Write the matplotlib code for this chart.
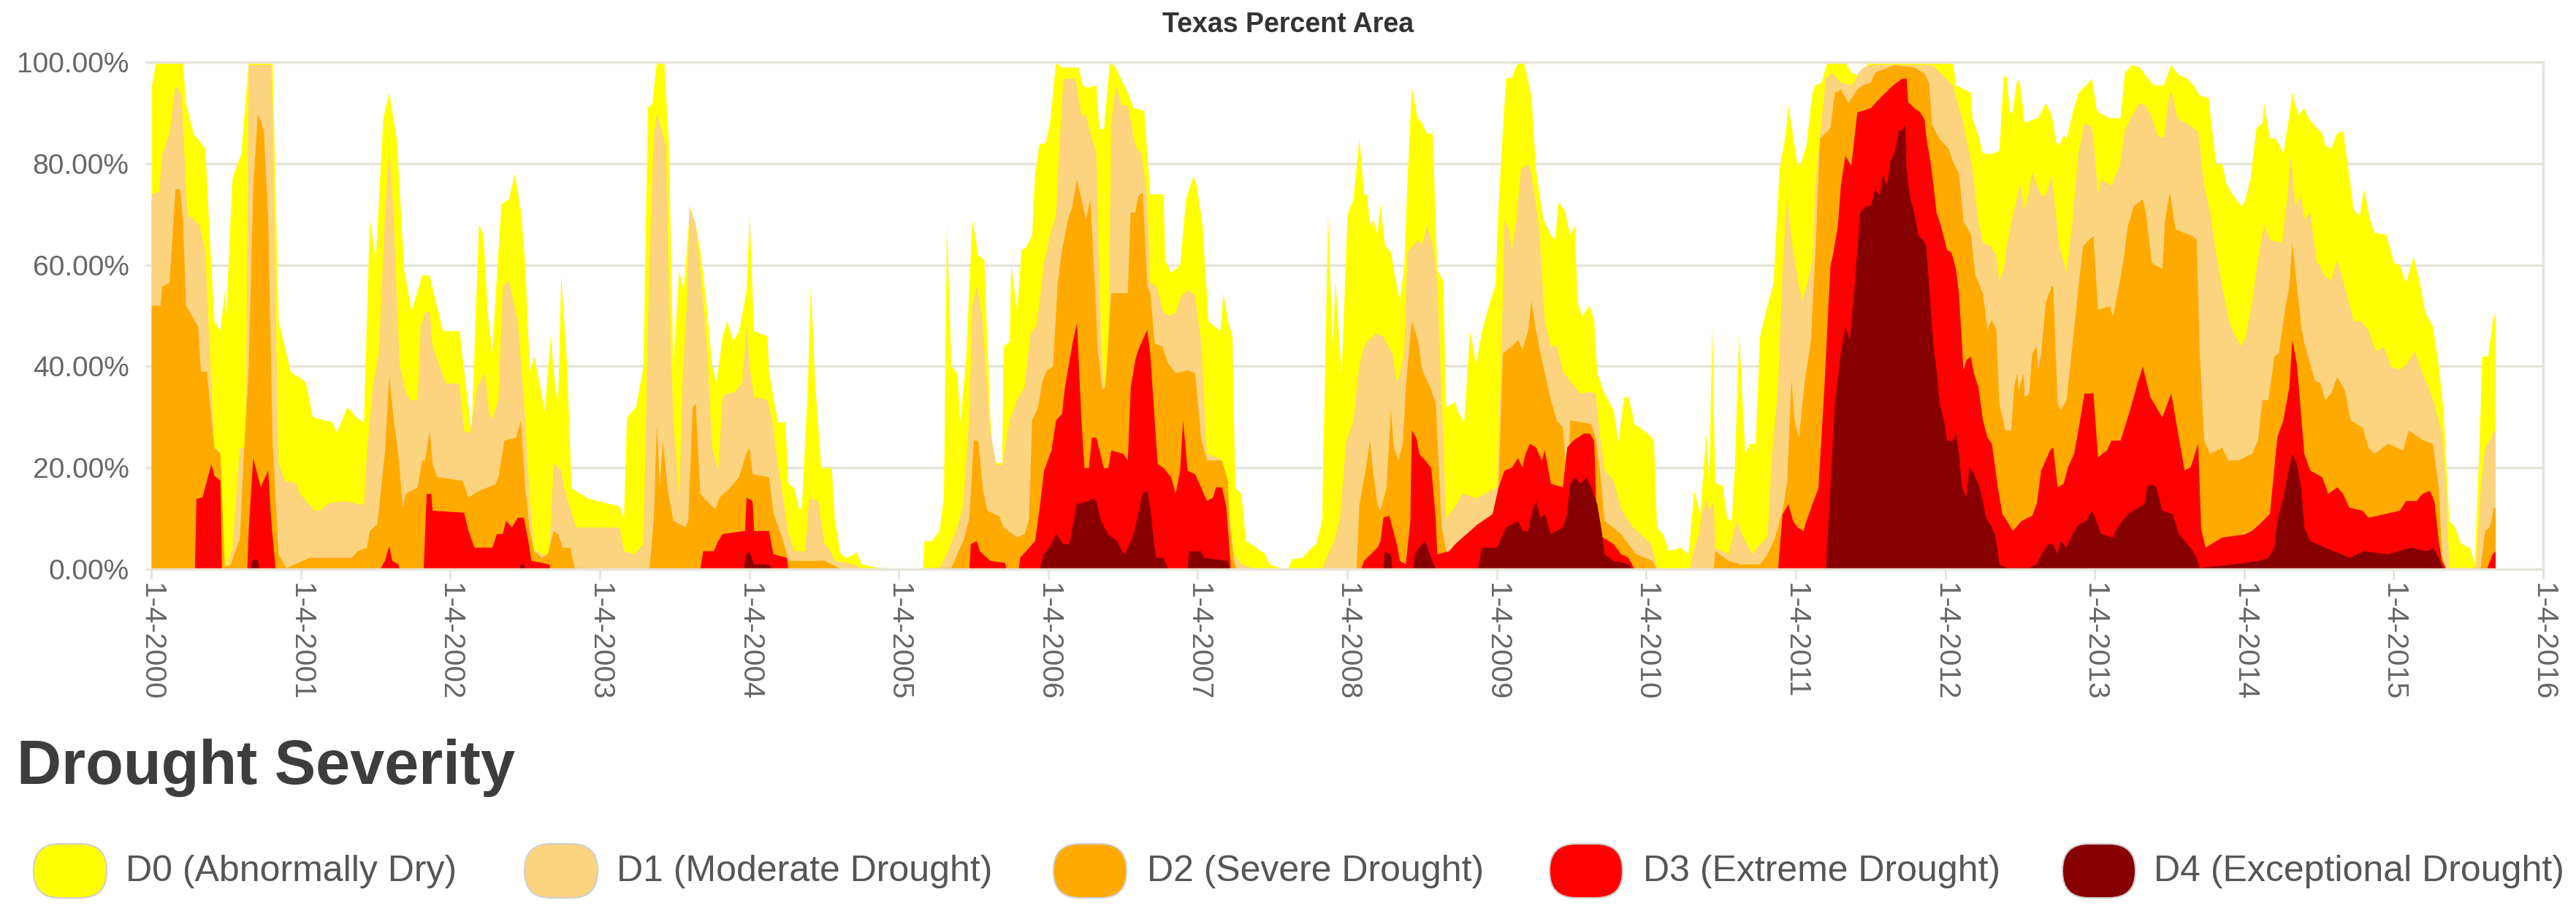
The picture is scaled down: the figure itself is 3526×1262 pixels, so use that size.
"""
Texas percent area in drought, 2000-2015 (US Drought Monitor style chart)
"""
# ------------------
# modules
# ------------------
import numpy as np
import matplotlib
matplotlib.use("Agg")
from matplotlib import pyplot as plt
from matplotlib.patches import FancyBboxPatch

plt.rcParams['font.family'] = ['Liberation Sans', 'DejaVu Sans']

# ------------------
# data
# ------------------
levels = ["D0 (Abnormally Dry)", "D1 (Moderate Drought)", "D2 (Severe Drought)",
          "D3 (Extreme Drought)", "D4 (Exceptional Drought)"]
colors = ["#FFFF00", "#FCD37F", "#FFAA00", "#FF0000", "#860000"]
years = list(range(2000, 2017))
tick_labels = ["1-4-%d" % y for y in years]
y_ticks = [0, 20, 40, 60, 80, 100]

# (decimal year, cumulative percent area)
d0 = [(2000.00, 95), (2000.03, 100), (2000.21, 100), (2000.23, 92), (2000.28, 86), (2000.36, 83),
      (2000.38, 71), (2000.42, 49), (2000.46, 47), (2000.49, 55), (2000.50, 50), (2000.54, 77),
      (2000.60, 82), (2000.65, 100), (2000.81, 100), (2000.85, 49), (2000.93, 39), (2001.03, 37),
      (2001.08, 30), (2001.21, 29), (2001.24, 27), (2001.31, 32), (2001.37, 30), (2001.42, 29),
      (2001.46, 69), (2001.50, 61), (2001.55, 89), (2001.59, 94), (2001.64, 85), (2001.69, 59),
      (2001.74, 51), (2001.81, 58), (2001.86, 58), (2001.90, 53), (2001.95, 47), (2002.06, 47),
      (2002.10, 37), (2002.14, 27), (2002.19, 68), (2002.22, 66), (2002.25, 50), (2002.28, 43),
      (2002.31, 58), (2002.34, 72), (2002.39, 73), (2002.43, 78), (2002.47, 71), (2002.50, 60),
      (2002.53, 39), (2002.56, 42), (2002.60, 36), (2002.63, 31), (2002.67, 46), (2002.70, 36),
      (2002.72, 33), (2002.74, 58), (2002.78, 40), (2002.81, 16), (2002.92, 14), (2003.05, 13),
      (2003.13, 12.5), (2003.16, 10), (2003.18, 30), (2003.24, 32), (2003.29, 40), (2003.32, 91),
      (2003.35, 92), (2003.38, 100), (2003.43, 100), (2003.46, 84), (2003.49, 40), (2003.53, 59),
      (2003.56, 55), (2003.60, 71), (2003.64, 68), (2003.67, 63), (2003.71, 53), (2003.75, 40),
      (2003.78, 37), (2003.82, 46), (2003.85, 49), (2003.89, 45), (2003.93, 47), (2003.98, 55),
      (2004.00, 70), (2004.03, 47), (2004.12, 46), (2004.13, 39), (2004.19, 29), (2004.24, 29),
      (2004.26, 17), (2004.30, 16), (2004.33, 12), (2004.35, 12), (2004.39, 36), (2004.41, 56),
      (2004.44, 36), (2004.48, 20), (2004.55, 20), (2004.57, 10), (2004.61, 3), (2004.65, 2.3),
      (2004.72, 3.3), (2004.75, 1), (2004.86, 0.3), (2005.16, 0), (2005.17, 5.6), (2005.22, 5.6),
      (2005.27, 7.6), (2005.30, 14), (2005.32, 68), (2005.35, 40), (2005.39, 38.7), (2005.41, 29),
      (2005.45, 42), (2005.49, 69), (2005.53, 62), (2005.57, 61), (2005.61, 30), (2005.63, 21),
      (2005.69, 21), (2005.70, 44), (2005.74, 45), (2005.75, 60), (2005.79, 51), (2005.82, 63),
      (2005.85, 63.5), (2005.89, 66), (2005.91, 78), (2005.94, 84), (2005.98, 84), (2006.01, 88),
      (2006.05, 100), (2006.09, 99), (2006.20, 99), (2006.23, 95.5), (2006.26, 95), (2006.32, 95.5),
      (2006.34, 87), (2006.37, 86.7), (2006.41, 100), (2006.45, 99), (2006.48, 97), (2006.53, 94),
      (2006.57, 91), (2006.64, 90.5), (2006.68, 74), (2006.77, 74), (2006.78, 61), (2006.82, 58.5),
      (2006.88, 60), (2006.92, 73), (2006.97, 77.6), (2006.99, 76), (2007.03, 68), (2007.07, 49),
      (2007.11, 48), (2007.15, 47), (2007.17, 54.5), (2007.20, 49), (2007.23, 46), (2007.25, 16),
      (2007.29, 15), (2007.32, 5.6), (2007.39, 4.3), (2007.45, 3), (2007.48, 1), (2007.55, 0.3),
      (2007.60, 0), (2007.63, 2), (2007.70, 2.3), (2007.76, 4.3), (2007.79, 5), (2007.83, 9.6),
      (2007.87, 70), (2007.90, 44), (2007.92, 57), (2007.96, 38), (2008.00, 70), (2008.04, 73),
      (2008.08, 85), (2008.11, 74), (2008.13, 74), (2008.15, 68), (2008.17, 69), (2008.20, 66),
      (2008.22, 72), (2008.25, 64), (2008.29, 62.5), (2008.33, 56), (2008.35, 53), (2008.38, 60),
      (2008.40, 76), (2008.43, 95), (2008.47, 89), (2008.50, 88), (2008.53, 86), (2008.57, 86),
      (2008.60, 59), (2008.64, 57), (2008.66, 32), (2008.72, 33), (2008.74, 31), (2008.78, 29),
      (2008.82, 47), (2008.86, 40.6), (2008.90, 47), (2008.95, 52.5), (2008.99, 56), (2009.01, 71.7),
      (2009.06, 96.8), (2009.10, 97), (2009.14, 100), (2009.18, 100), (2009.23, 93.5), (2009.26, 79),
      (2009.31, 69), (2009.36, 66), (2009.39, 65), (2009.41, 72.4), (2009.45, 71), (2009.49, 66),
      (2009.52, 67.8), (2009.54, 52.5), (2009.57, 50), (2009.62, 52), (2009.65, 49), (2009.67, 38.7),
      (2009.72, 34.7), (2009.78, 31.4), (2009.81, 25), (2009.85, 34), (2009.88, 34), (2009.92, 28.7),
      (2010.01, 26.8), (2010.05, 25.4), (2010.07, 8.3), (2010.11, 7), (2010.15, 3.6), (2010.23, 4.3),
      (2010.28, 3), (2010.32, 15.5), (2010.36, 11), (2010.40, 26.8), (2010.42, 17), (2010.44, 48),
      (2010.46, 17), (2010.51, 16.5), (2010.54, 10), (2010.57, 9.6), (2010.59, 19.5), (2010.62, 46.6),
      (2010.66, 22.8), (2010.69, 24.8), (2010.73, 24.8), (2010.76, 46), (2010.80, 51), (2010.85, 56.5),
      (2010.89, 79), (2010.93, 85.6), (2010.95, 91.5), (2010.98, 85.6), (2011.01, 79.6), (2011.03, 80),
      (2011.07, 83.6), (2011.11, 94), (2011.13, 95.5), (2011.17, 96), (2011.21, 100), (2011.33, 100),
      (2011.37, 98), (2011.41, 97.5), (2011.45, 97), (2011.48, 100), (2012.05, 100), (2012.07, 95.5),
      (2012.17, 94), (2012.18, 89), (2012.22, 85.6), (2012.25, 82), (2012.31, 82), (2012.36, 82.5),
      (2012.39, 97.5), (2012.41, 97), (2012.43, 90), (2012.45, 90.3), (2012.48, 96.8), (2012.50, 95.5),
      (2012.53, 88), (2012.58, 88.7), (2012.62, 89), (2012.67, 92), (2012.71, 89.6), (2012.74, 84.3),
      (2012.76, 83.6), (2012.79, 85.6), (2012.81, 85), (2012.85, 90), (2012.89, 94), (2012.94, 95.5),
      (2012.98, 96.8), (2013.01, 90.9), (2013.03, 90), (2013.10, 89), (2013.17, 89), (2013.20, 98),
      (2013.25, 99.5), (2013.30, 99), (2013.35, 97), (2013.39, 95.5), (2013.46, 95.5), (2013.51, 99.5),
      (2013.56, 97.5), (2013.61, 97), (2013.66, 95.5), (2013.70, 93.5), (2013.76, 93), (2013.81, 80),
      (2013.85, 80), (2013.88, 76), (2013.92, 74), (2013.98, 71.7), (2014.00, 72.4), (2014.04, 77),
      (2014.08, 87), (2014.12, 88), (2014.13, 92), (2014.17, 85), (2014.21, 85), (2014.26, 82),
      (2014.30, 89.6), (2014.32, 94), (2014.36, 89.6), (2014.40, 91), (2014.43, 89), (2014.47, 87.5),
      (2014.52, 86), (2014.54, 83.6), (2014.58, 83), (2014.62, 86), (2014.66, 86.5), (2014.70, 77.7),
      (2014.73, 71), (2014.77, 69.7), (2014.80, 75), (2014.84, 69), (2014.87, 66.4), (2014.95, 66),
      (2015.00, 60.5), (2015.04, 60), (2015.08, 56.5), (2015.13, 61.7), (2015.17, 57), (2015.21, 50.6),
      (2015.26, 48), (2015.30, 40), (2015.33, 32), (2015.37, 9.6), (2015.41, 8.3), (2015.45, 5),
      (2015.51, 4.3), (2015.54, 1), (2015.57, 22.8), (2015.59, 42), (2015.63, 42), (2015.66, 49),
      (2015.68, 50.6)]

d1 = [(2000.00, 74), (2000.05, 74.5), (2000.07, 81.6), (2000.12, 86), (2000.16, 95.5), (2000.20, 93.5),
      (2000.24, 70), (2000.28, 69), (2000.32, 68), (2000.36, 62.5), (2000.40, 36), (2000.42, 24),
      (2000.45, 23.5), (2000.47, 4), (2000.50, 0.5), (2000.54, 4), (2000.59, 24), (2000.63, 24),
      (2000.65, 99.5), (2000.80, 99.5), (2000.81, 89), (2000.84, 36), (2000.85, 20.8), (2000.89, 17.5),
      (2000.97, 17), (2000.99, 15), (2001.09, 11.6), (2001.13, 11.6), (2001.18, 13), (2001.29, 13.5),
      (2001.42, 12.7), (2001.44, 22.8), (2001.48, 36), (2001.52, 42.6), (2001.56, 69), (2001.59, 83),
      (2001.62, 69), (2001.66, 40), (2001.70, 35), (2001.73, 33.4), (2001.78, 33.4), (2001.80, 48),
      (2001.83, 50.6), (2001.86, 51), (2001.88, 44), (2001.94, 39), (2001.97, 36.7), (2002.06, 36.7),
      (2002.09, 27.4), (2002.13, 26.8), (2002.18, 36), (2002.23, 38.7), (2002.26, 30.7), (2002.28, 29.7),
      (2002.32, 33.4), (2002.35, 55.8), (2002.39, 57), (2002.45, 49), (2002.50, 29.4), (2002.53, 13.5),
      (2002.56, 4), (2002.61, 3), (2002.66, 3), (2002.69, 21), (2002.74, 19.5), (2002.76, 16),
      (2002.81, 11), (2002.84, 8.3), (2003.13, 8.3), (2003.16, 3.6), (2003.23, 3), (2003.29, 5),
      (2003.33, 60), (2003.36, 85.6), (2003.38, 90), (2003.44, 83.6), (2003.46, 56), (2003.49, 29),
      (2003.53, 14), (2003.55, 36), (2003.58, 52), (2003.60, 71.7), (2003.64, 68), (2003.68, 55.8),
      (2003.71, 46), (2003.75, 24), (2003.79, 19.5), (2003.82, 34), (2003.85, 34.7), (2003.90, 35),
      (2003.95, 36.7), (2003.98, 48), (2004.00, 40), (2004.03, 34), (2004.12, 33.4), (2004.15, 29.4),
      (2004.19, 20.8), (2004.24, 11), (2004.26, 7), (2004.30, 3.6), (2004.37, 3.6), (2004.40, 14),
      (2004.46, 13.5), (2004.50, 5), (2004.53, 4.3), (2004.57, 1.7), (2004.70, 1), (2004.75, 0),
      (2005.27, 0.3), (2005.32, 3), (2005.39, 8.3), (2005.43, 13), (2005.47, 30), (2005.49, 52),
      (2005.52, 56), (2005.56, 49), (2005.58, 38.7), (2005.61, 27.4), (2005.65, 20.8), (2005.69, 20.5),
      (2005.74, 29.4), (2005.79, 33.4), (2005.84, 36), (2005.88, 46.6), (2005.92, 48), (2005.97, 60.5),
      (2006.02, 67), (2006.05, 69.7), (2006.07, 82), (2006.10, 96.8), (2006.18, 96.8), (2006.22, 89.6),
      (2006.25, 89.6), (2006.29, 85), (2006.32, 82), (2006.35, 47.3), (2006.37, 35.4), (2006.40, 43),
      (2006.42, 88), (2006.45, 95.5), (2006.49, 91.5), (2006.53, 91.5), (2006.58, 83.6), (2006.62, 82),
      (2006.66, 74), (2006.68, 56.5), (2006.72, 56), (2006.77, 50.6), (2006.81, 50), (2006.85, 50.6),
      (2006.89, 54), (2006.93, 55), (2006.98, 54), (2007.02, 45), (2007.06, 22.8), (2007.15, 21.8),
      (2007.17, 20.8), (2007.20, 14), (2007.24, 3), (2007.29, 1), (2007.39, 0), (2007.83, 0),
      (2007.86, 2.3), (2007.91, 5.6), (2007.95, 10), (2007.99, 25), (2008.04, 29.4), (2008.08, 40.6),
      (2008.12, 44.6), (2008.19, 46.6), (2008.24, 45.9), (2008.30, 42.6), (2008.33, 37), (2008.35, 38.4),
      (2008.38, 43.3), (2008.40, 62.5), (2008.47, 65), (2008.50, 64), (2008.53, 67.8), (2008.57, 64),
      (2008.60, 57), (2008.64, 26), (2008.66, 10), (2008.73, 12.9), (2008.77, 15), (2008.86, 14),
      (2009.00, 16.2), (2009.03, 42), (2009.05, 69), (2009.08, 67), (2009.10, 63), (2009.13, 69),
      (2009.16, 79), (2009.21, 80), (2009.23, 78), (2009.28, 67.8), (2009.32, 49), (2009.36, 44),
      (2009.40, 44), (2009.44, 39), (2009.52, 36), (2009.56, 34.7), (2009.62, 35), (2009.66, 34.7),
      (2009.69, 26), (2009.72, 19.5), (2009.78, 17.5), (2009.83, 12), (2009.87, 10), (2009.91, 8.3),
      (2009.96, 7), (2010.03, 5), (2010.07, 0.3), (2010.29, 0), (2010.31, 3), (2010.35, 7),
      (2010.37, 11), (2010.40, 13.5), (2010.42, 11.6), (2010.45, 13.5), (2010.46, 4.3), (2010.55, 3),
      (2010.60, 9.6), (2010.66, 5.6), (2010.71, 3), (2010.76, 5), (2010.81, 6.3), (2010.84, 22.8),
      (2010.88, 36), (2010.91, 59), (2010.94, 73.7), (2010.97, 65), (2011.02, 55.8), (2011.04, 53),
      (2011.07, 55.8), (2011.11, 61), (2011.13, 75.7), (2011.16, 85.6), (2011.20, 96.8), (2011.24, 98),
      (2011.30, 96), (2011.38, 95.5), (2011.42, 98), (2011.45, 99), (2011.50, 99.5), (2011.90, 99.5),
      (2011.93, 99), (2012.05, 95.4), (2012.12, 87.7), (2012.18, 79.1), (2012.22, 68.6), (2012.25, 64.4),
      (2012.30, 63.8), (2012.34, 62), (2012.36, 57), (2012.39, 59), (2012.41, 63.8), (2012.44, 68.4),
      (2012.48, 73.7), (2012.50, 75.7), (2012.53, 71), (2012.56, 74.4), (2012.58, 78.3), (2012.64, 73.7),
      (2012.67, 73.7), (2012.71, 77.6), (2012.74, 69.7), (2012.76, 63.8), (2012.81, 58.5), (2012.85, 69),
      (2012.89, 82.3), (2012.93, 88), (2012.97, 87.5), (2012.99, 85), (2013.02, 74), (2013.04, 77),
      (2013.11, 75.7), (2013.17, 80), (2013.20, 86.7), (2013.25, 89.6), (2013.30, 92), (2013.34, 91.5),
      (2013.38, 89), (2013.42, 85.6), (2013.46, 85), (2013.50, 94), (2013.52, 93.5), (2013.55, 89),
      (2013.64, 87.5), (2013.69, 86.3), (2013.73, 75.7), (2013.77, 70.4), (2013.81, 62.5), (2013.85, 55.8),
      (2013.90, 48.6), (2013.94, 46), (2013.98, 44), (2014.01, 46), (2014.05, 52.5), (2014.09, 61),
      (2014.13, 67.8), (2014.17, 65), (2014.25, 64.4), (2014.29, 74), (2014.31, 82), (2014.34, 71.7),
      (2014.38, 73.7), (2014.40, 69), (2014.44, 70.4), (2014.48, 61), (2014.54, 57.8), (2014.58, 57),
      (2014.62, 61), (2014.67, 55.8), (2014.73, 49), (2014.78, 49), (2014.83, 47), (2014.88, 43),
      (2014.93, 43.9), (2014.98, 40), (2015.04, 39.4), (2015.09, 40.6), (2015.14, 43), (2015.19, 38.7),
      (2015.23, 36), (2015.27, 32.7), (2015.32, 26.8), (2015.35, 16), (2015.37, 0.3), (2015.55, 0.3),
      (2015.58, 16), (2015.61, 24), (2015.64, 25.4), (2015.67, 27.4), (2015.68, 27)]

d2 = [(2000.00, 52), (2000.06, 52), (2000.07, 55.8), (2000.12, 56.5), (2000.16, 75), (2000.19, 75),
      (2000.21, 69), (2000.23, 52), (2000.29, 49), (2000.31, 48), (2000.33, 39), (2000.37, 39),
      (2000.38, 36), (2000.42, 24), (2000.46, 22.8), (2000.49, 0.5), (2000.53, 1), (2000.59, 6),
      (2000.62, 24), (2000.65, 40), (2000.68, 75), (2000.71, 90), (2000.75, 86.7), (2000.78, 69),
      (2000.81, 24.8), (2000.85, 3), (2000.90, 0.3), (2001.06, 2.3), (2001.34, 2.3), (2001.38, 3.6),
      (2001.44, 4.3), (2001.46, 7.6), (2001.51, 8.9), (2001.56, 22.8), (2001.59, 38), (2001.62, 29.4),
      (2001.65, 22.8), (2001.68, 12.2), (2001.70, 14.9), (2001.78, 16.2), (2001.81, 21.5), (2001.83, 21.5),
      (2001.86, 27.4), (2001.88, 20.8), (2001.91, 18.2), (2002.08, 17.5), (2002.12, 14.2), (2002.19, 15.5),
      (2002.30, 16.8), (2002.32, 18.2), (2002.36, 25.4), (2002.44, 26), (2002.47, 29.4), (2002.50, 16),
      (2002.53, 7.6), (2002.56, 3.6), (2002.61, 2.3), (2002.65, 3), (2002.69, 7.6), (2002.72, 6.9),
      (2002.75, 4.3), (2002.80, 4.3), (2002.83, 0.3), (2003.33, 0), (2003.36, 10), (2003.38, 28.7),
      (2003.40, 16), (2003.42, 25.4), (2003.45, 16.2), (2003.49, 9.6), (2003.57, 8.3), (2003.59, 9.6),
      (2003.62, 32), (2003.64, 32.7), (2003.67, 14.9), (2003.69, 14.2), (2003.77, 11.9), (2003.80, 14.2),
      (2003.85, 15.5), (2003.93, 18.2), (2003.98, 23), (2004.00, 24), (2004.02, 18.8), (2004.13, 18.2),
      (2004.16, 11), (2004.21, 7), (2004.25, 3), (2004.26, 1.7), (2004.50, 1.7), (2004.62, 0),
      (2005.35, 0.3), (2005.39, 3), (2005.43, 5.6), (2005.47, 10), (2005.50, 25.4), (2005.53, 25.4),
      (2005.56, 16), (2005.59, 11.6), (2005.67, 10.5), (2005.70, 8.3), (2005.79, 6.3), (2005.84, 7),
      (2005.87, 10), (2005.89, 29.4), (2005.93, 32), (2005.96, 37.3), (2005.99, 39.3), (2006.03, 40),
      (2006.06, 56), (2006.09, 63), (2006.13, 69), (2006.16, 71.7), (2006.19, 77), (2006.22, 73),
      (2006.25, 69), (2006.28, 73), (2006.31, 56), (2006.33, 43), (2006.36, 35.4), (2006.38, 36),
      (2006.42, 54.5), (2006.53, 54.5), (2006.55, 70.4), (2006.58, 70.4), (2006.60, 73.7), (2006.63, 74.4),
      (2006.66, 56), (2006.68, 54.5), (2006.71, 44.6), (2006.76, 44), (2006.80, 40.6), (2006.85, 38.7),
      (2006.93, 39.3), (2006.98, 38.7), (2007.02, 26), (2007.06, 21.5), (2007.16, 21.5), (2007.20, 17.5),
      (2007.21, 9.6), (2007.24, 1.7), (2007.26, 0), (2008.06, 0), (2008.08, 12.9), (2008.12, 19.5),
      (2008.15, 25.4), (2008.17, 19.5), (2008.20, 12.9), (2008.22, 11.6), (2008.26, 16), (2008.29, 31.4),
      (2008.31, 24), (2008.34, 21.5), (2008.37, 24.8), (2008.39, 36), (2008.43, 49), (2008.47, 45.3),
      (2008.50, 39.3), (2008.56, 35.4), (2008.59, 32.7), (2008.63, 8.3), (2008.66, 3.6), (2008.70, 3),
      (2008.78, 6.3), (2008.86, 8.3), (2008.95, 8.9), (2008.99, 10.6), (2009.01, 16.2), (2009.04, 42.6),
      (2009.10, 44), (2009.14, 45.3), (2009.17, 43.3), (2009.21, 47.3), (2009.23, 53), (2009.26, 47.3),
      (2009.30, 41.3), (2009.36, 33.4), (2009.40, 29.4), (2009.44, 28), (2009.47, 16), (2009.49, 29.4),
      (2009.63, 28.7), (2009.66, 26), (2009.69, 19), (2009.72, 9.6), (2009.83, 7), (2009.88, 5),
      (2009.93, 3), (2010.04, 1.7), (2010.07, 0), (2010.45, 0), (2010.46, 3.6), (2010.55, 1.7),
      (2010.63, 1), (2010.76, 1), (2010.81, 3), (2010.86, 6.3), (2010.91, 11.6), (2010.94, 17),
      (2010.97, 37.3), (2010.99, 29.4), (2011.02, 26), (2011.06, 37.3), (2011.10, 45.3), (2011.13, 62.5),
      (2011.16, 85), (2011.23, 87), (2011.26, 94), (2011.30, 94.7), (2011.35, 92), (2011.41, 94.7),
      (2011.45, 95.5), (2011.50, 96), (2011.53, 98), (2011.66, 99.5), (2011.79, 99), (2011.86, 97.8),
      (2011.89, 95.9), (2011.91, 87.7), (2011.96, 84.9), (2012.02, 83), (2012.05, 80.4), (2012.09, 78.1),
      (2012.12, 68.6), (2012.14, 67.7), (2012.17, 66), (2012.20, 58), (2012.25, 54.5), (2012.28, 47.3),
      (2012.31, 49.2), (2012.34, 47.3), (2012.36, 32.7), (2012.40, 27.4), (2012.44, 27.4), (2012.46, 36),
      (2012.48, 38.7), (2012.49, 35.4), (2012.52, 38.7), (2012.53, 34), (2012.56, 34.7), (2012.58, 42.6),
      (2012.61, 43.9), (2012.62, 39.3), (2012.64, 42.6), (2012.67, 52.5), (2012.71, 55.8), (2012.72, 55.8),
      (2012.75, 32.7), (2012.77, 31.4), (2012.81, 33.4), (2012.85, 44.6), (2012.89, 55.8), (2012.92, 63.8),
      (2012.99, 65.8), (2013.02, 51.2), (2013.10, 51.9), (2013.12, 49.9), (2013.16, 55.8), (2013.19, 61),
      (2013.22, 67.8), (2013.26, 71.7), (2013.32, 73), (2013.34, 70.4), (2013.38, 60.5), (2013.45, 59.2),
      (2013.47, 69), (2013.50, 74.4), (2013.54, 67), (2013.65, 65.8), (2013.68, 65), (2013.70, 43),
      (2013.73, 25.4), (2013.77, 22.8), (2013.85, 24), (2013.89, 21.5), (2013.96, 21.5), (2014.05, 22.8),
      (2014.09, 25.4), (2014.12, 33.4), (2014.16, 33.4), (2014.20, 42), (2014.23, 42.6), (2014.27, 51),
      (2014.30, 56), (2014.32, 64.4), (2014.35, 56), (2014.38, 47.9), (2014.40, 44.6), (2014.47, 37.3),
      (2014.51, 36.7), (2014.54, 33.4), (2014.58, 34.7), (2014.62, 38), (2014.67, 35.4), (2014.71, 29.4),
      (2014.79, 28), (2014.83, 24), (2014.87, 22.8), (2014.96, 24.8), (2015.06, 23.5), (2015.10, 27.4),
      (2015.20, 25.4), (2015.26, 24.8), (2015.30, 16), (2015.32, 3), (2015.35, 0), (2015.58, 0.3),
      (2015.61, 7.6), (2015.64, 8.3), (2015.67, 12.2), (2015.68, 12)]

d3 = [(2000.00, 0), (2000.29, 0), (2000.30, 13.9), (2000.34, 14.2), (2000.37, 17.5), (2000.40, 20.8),
      (2000.42, 18.5), (2000.46, 17.5), (2000.47, 0), (2000.64, 0), (2000.65, 8), (2000.68, 22),
      (2000.71, 18.5), (2000.73, 16.2), (2000.78, 19.5), (2000.80, 9.6), (2000.83, 0), (2001.53, 0),
      (2001.56, 1.7), (2001.59, 4.6), (2001.61, 1.7), (2001.65, 1), (2001.66, 0), (2001.82, 0),
      (2001.84, 14.9), (2001.87, 14.9), (2001.88, 11.6), (2002.09, 11.2), (2002.12, 7.6), (2002.16, 4.3),
      (2002.28, 4.3), (2002.31, 7), (2002.35, 7), (2002.37, 9.6), (2002.41, 8.3), (2002.45, 10.2),
      (2002.49, 10.2), (2002.52, 5.6), (2002.54, 1.7), (2002.66, 1), (2002.67, 0), (2003.67, 0),
      (2003.69, 3.6), (2003.76, 3.6), (2003.79, 5.6), (2003.82, 7), (2003.97, 7.6), (2003.98, 14.2),
      (2004.02, 13.5), (2004.03, 7.6), (2004.13, 7.6), (2004.16, 3), (2004.25, 2.3), (2004.26, 0),
      (2005.47, 0), (2005.48, 5), (2005.52, 5.6), (2005.54, 3.6), (2005.61, 1.7), (2005.71, 1.3),
      (2005.72, 0), (2005.80, 0), (2005.81, 2.3), (2005.87, 4.3), (2005.91, 5.6), (2005.94, 12),
      (2005.97, 19.5), (2006.02, 23.5), (2006.05, 29.4), (2006.09, 30.7), (2006.11, 36), (2006.16, 44.6),
      (2006.19, 48.6), (2006.22, 29.4), (2006.24, 20), (2006.27, 20), (2006.29, 26), (2006.32, 26),
      (2006.37, 20), (2006.40, 20), (2006.42, 23.5), (2006.50, 22.8), (2006.53, 21.5), (2006.55, 36),
      (2006.58, 41.3), (2006.60, 43.3), (2006.66, 47.3), (2006.68, 42.6), (2006.71, 29.4), (2006.73, 20.8),
      (2006.77, 20), (2006.82, 18.2), (2006.85, 14.9), (2006.88, 19.5), (2006.90, 29.4), (2006.93, 19.5),
      (2006.98, 18.8), (2007.02, 16.2), (2007.06, 13.5), (2007.10, 14.2), (2007.12, 16.2), (2007.16, 16.2),
      (2007.19, 12.2), (2007.22, 0), (2008.09, 0), (2008.11, 1.7), (2008.20, 4.3), (2008.22, 5.6),
      (2008.24, 10.2), (2008.28, 10.6), (2008.30, 8.3), (2008.33, 5), (2008.35, 1.7), (2008.39, 1),
      (2008.42, 9.6), (2008.43, 27.4), (2008.46, 26), (2008.48, 22.8), (2008.52, 21.5), (2008.56, 20),
      (2008.59, 10), (2008.60, 3), (2008.68, 3.6), (2008.72, 5), (2008.77, 6.3), (2008.87, 8.9),
      (2008.97, 10.9), (2009.01, 16.2), (2009.05, 19.5), (2009.10, 20.1), (2009.14, 22), (2009.17, 20.1),
      (2009.19, 22.8), (2009.22, 24.8), (2009.26, 24.1), (2009.30, 21.5), (2009.32, 23.5), (2009.36, 16.9),
      (2009.44, 16.2), (2009.47, 24.1), (2009.51, 25.4), (2009.58, 26.8), (2009.62, 26.8), (2009.65, 25.4),
      (2009.67, 7), (2009.78, 5), (2009.83, 3), (2009.88, 2.3), (2009.92, 0), (2010.88, 0),
      (2010.91, 10.9), (2010.95, 12.9), (2010.98, 9.6), (2011.01, 8.3), (2011.05, 7.6), (2011.07, 9.6),
      (2011.11, 12.9), (2011.15, 16), (2011.19, 36), (2011.23, 59.8), (2011.25, 62.5), (2011.28, 67.8),
      (2011.30, 75.7), (2011.33, 81.6), (2011.37, 79.6), (2011.41, 90.2), (2011.45, 90.5), (2011.50, 91),
      (2011.58, 93.5), (2011.65, 95.5), (2011.71, 96.8), (2011.74, 96.8), (2011.75, 92.2), (2011.79, 91),
      (2011.83, 90.2), (2011.86, 88.7), (2011.87, 85.6), (2011.90, 80.3), (2011.92, 75.7), (2011.94, 70.4),
      (2011.97, 67.7), (2012.01, 63), (2012.04, 62.5), (2012.07, 59.2), (2012.09, 54.5), (2012.12, 39.3),
      (2012.14, 41.3), (2012.17, 42), (2012.19, 38.7), (2012.22, 36), (2012.25, 29.4), (2012.28, 26.1),
      (2012.31, 24.8), (2012.35, 16.2), (2012.38, 10.9), (2012.41, 9.6), (2012.45, 7.6), (2012.51, 9.6),
      (2012.58, 10.6), (2012.61, 12.9), (2012.64, 19.5), (2012.70, 23.5), (2012.72, 24.1), (2012.75, 16.2),
      (2012.79, 16.9), (2012.82, 20.2), (2012.86, 22.8), (2012.90, 29.4), (2012.93, 34.7), (2012.99, 34.7),
      (2013.02, 22.1), (2013.08, 23.5), (2013.11, 25.4), (2013.17, 25.4), (2013.20, 28.1), (2013.24, 32),
      (2013.29, 37.3), (2013.32, 40), (2013.37, 34), (2013.45, 30), (2013.51, 34.7), (2013.56, 26.1),
      (2013.60, 19.5), (2013.64, 20.2), (2013.69, 24.8), (2013.71, 8), (2013.74, 4.3), (2013.85, 6.3),
      (2014.00, 6.9), (2014.05, 7.6), (2014.10, 8.9), (2014.17, 11), (2014.22, 26.1), (2014.26, 29.4),
      (2014.30, 36), (2014.32, 45.3), (2014.35, 40.6), (2014.38, 30), (2014.40, 22.8), (2014.44, 19.5),
      (2014.52, 18.2), (2014.56, 14.9), (2014.62, 16.2), (2014.66, 14.9), (2014.70, 12.2), (2014.79, 11.6),
      (2014.83, 10.2), (2015.04, 11.6), (2015.08, 13.5), (2015.15, 13.5), (2015.19, 14.9), (2015.24, 15.5),
      (2015.27, 13.5), (2015.30, 5.6), (2015.32, 1.7), (2015.35, 0), (2015.62, 0), (2015.66, 3),
      (2015.68, 3.6)]

d4 = [(2000.00, 0), (2000.66, 0), (2000.68, 2), (2000.71, 2), (2000.72, 0), (2002.46, 0),
      (2002.47, 1), (2002.49, 1), (2002.50, 0), (2003.96, 0), (2003.98, 3), (2004.00, 3.6),
      (2004.03, 1), (2004.13, 1), (2004.15, 0), (2005.94, 0), (2005.97, 3), (2006.02, 5),
      (2006.05, 7), (2006.10, 5), (2006.14, 5), (2006.16, 8.3), (2006.19, 12.9), (2006.27, 13.5),
      (2006.29, 14), (2006.32, 13.5), (2006.35, 9.6), (2006.40, 6.9), (2006.46, 5.6), (2006.49, 3.6),
      (2006.51, 3), (2006.57, 7), (2006.60, 10.9), (2006.63, 14.9), (2006.66, 15.5), (2006.68, 12.2),
      (2006.71, 4), (2006.72, 2.3), (2006.77, 2.3), (2006.80, 0), (2006.93, 0), (2006.94, 3.6),
      (2007.02, 3.6), (2007.04, 2.3), (2007.20, 1.7), (2007.21, 0), (2008.24, 0), (2008.25, 3.6),
      (2008.29, 3), (2008.30, 0), (2008.44, 0), (2008.45, 3), (2008.48, 4.3), (2008.52, 5.6),
      (2008.55, 3), (2008.59, 0), (2008.87, 0), (2008.90, 4.3), (2009.00, 4.3), (2009.03, 6.3),
      (2009.06, 8.3), (2009.14, 9.6), (2009.17, 7.6), (2009.21, 7.6), (2009.23, 10.9), (2009.26, 13.5),
      (2009.29, 10.2), (2009.32, 10.9), (2009.36, 7), (2009.44, 8.3), (2009.47, 10.9), (2009.49, 16.9),
      (2009.52, 18.2), (2009.56, 16.9), (2009.60, 18.2), (2009.63, 16.2), (2009.67, 12.9), (2009.70, 7.6),
      (2009.72, 3), (2009.78, 1.7), (2009.88, 1), (2009.91, 0), (2011.20, 0), (2011.23, 16),
      (2011.26, 32.7), (2011.30, 42.6), (2011.33, 47.9), (2011.36, 45.3), (2011.39, 55), (2011.43, 70.4),
      (2011.47, 71.7), (2011.50, 71.7), (2011.53, 75), (2011.56, 73.7), (2011.58, 77.7), (2011.61, 75.7),
      (2011.63, 80.3), (2011.65, 81.6), (2011.67, 83.6), (2011.69, 86.9), (2011.70, 86.3), (2011.73, 87.6),
      (2011.74, 79), (2011.76, 73.7), (2011.79, 70.4), (2011.82, 65.8), (2011.85, 65), (2011.87, 63.8),
      (2011.89, 55.8), (2011.92, 44), (2011.94, 39.3), (2011.96, 32.7), (2011.99, 29.4), (2012.01, 25.4),
      (2012.05, 25.4), (2012.07, 26.8), (2012.09, 22.8), (2012.11, 16.2), (2012.14, 14.2), (2012.16, 20.2),
      (2012.18, 19.5), (2012.22, 16.9), (2012.25, 13.5), (2012.27, 10.2), (2012.30, 8.9), (2012.33, 6.9),
      (2012.35, 3.6), (2012.36, 1), (2012.41, 0.3), (2012.56, 0.3), (2012.61, 1), (2012.64, 3),
      (2012.69, 5), (2012.72, 5), (2012.75, 3), (2012.77, 5.6), (2012.81, 4.3), (2012.85, 7),
      (2012.89, 8.9), (2012.94, 9.6), (2012.98, 11.6), (2013.01, 9.6), (2013.04, 7), (2013.12, 6.3),
      (2013.15, 8.3), (2013.22, 10.9), (2013.29, 12.2), (2013.33, 12.9), (2013.35, 16.2), (2013.38, 16.9),
      (2013.41, 16.2), (2013.45, 11.6), (2013.52, 10.9), (2013.56, 7), (2013.64, 4.3), (2013.68, 2.3),
      (2013.70, 0.3), (2013.92, 1), (2014.10, 1.7), (2014.16, 2.3), (2014.20, 4.3), (2014.22, 9.6),
      (2014.26, 14.2), (2014.30, 20.2), (2014.32, 22.8), (2014.35, 20.8), (2014.38, 16), (2014.40, 8.3),
      (2014.44, 5.6), (2014.54, 4.3), (2014.65, 3), (2014.70, 2.3), (2014.80, 3.6), (2014.96, 3),
      (2015.11, 4.3), (2015.22, 3.6), (2015.26, 4.3), (2015.30, 2.3), (2015.33, 0), (2015.68, 0)]

series = [d0, d1, d2, d3, d4]

# ------------------
# style
# ------------------
W, H = 3526, 1262
grid_color = "#E6E4DA"
label_color = "#666666"
legend_marker_x = [46, 718, 1442, 2121, 2823]
legend_text_x = [172, 844, 1570, 2249, 2948]


def main():
    fig = plt.figure(figsize=(W / 100, H / 100), dpi=100)
    fig.patch.set_facecolor("white")

    # plot area in pixels: left 207, right 3481, top 85, bottom 779
    ax = fig.add_axes([207 / W, 1 - 779 / H, (3481 - 207) / W, (779 - 85) / H])

    for pts, col in zip(series, colors):
        arr = np.array(pts, dtype=float)
        ax.fill_between(arr[:, 0], arr[:, 1], 0, color=col, lw=0, zorder=1)

    ax.set_xlim(2000, 2016)
    ax.set_ylim(0, 100)

    ax.set_xticks(years)
    ax.set_xticklabels(tick_labels, rotation=-90, fontsize=29, color=label_color)
    ax.set_yticks(y_ticks)
    ax.set_yticklabels(["%.2f%%" % v for v in y_ticks], fontsize=28, color=label_color)
    ax.tick_params(axis="x", length=10, width=2, color=grid_color, pad=4)
    ax.tick_params(axis="y", length=6, width=2.5, color=grid_color, pad=16)

    ax.yaxis.grid(True, color=grid_color, lw=2.5)
    ax.set_axisbelow(True)
    for side in ["top", "right", "bottom"]:
        ax.spines[side].set_color(grid_color)
        ax.spines[side].set_linewidth(2.5)
    ax.spines["left"].set_visible(False)

    fig.text(0.5, 1 - 34 / H, "Texas Percent Area", ha="center", va="center",
             fontsize=27, fontweight="bold", color="#333333")

    # legend drawn in pixel coordinates
    lax = fig.add_axes([0, 0, 1, 1])
    lax.set_xlim(0, W)
    lax.set_ylim(H, 0)
    lax.axis("off")

    lax.text(23, 1073, "Drought Severity", fontsize=61, fontweight="bold",
             color="#3d3d3d", va="baseline", ha="left")

    for mx, tx, col, name in zip(legend_marker_x, legend_text_x, colors, levels):
        box = FancyBboxPatch((mx, 1155), 100, 74,
                             boxstyle="round,pad=0,rounding_size=36",
                             fc=col, ec="#d0d0d0", lw=1.5)
        lax.add_patch(box)
        lax.text(tx, 1193, name, fontsize=36, color="#555555", va="center", ha="left")

    fig.savefig("out.png", dpi=100)
    plt.close(fig)


if __name__ == "__main__":
    main()
